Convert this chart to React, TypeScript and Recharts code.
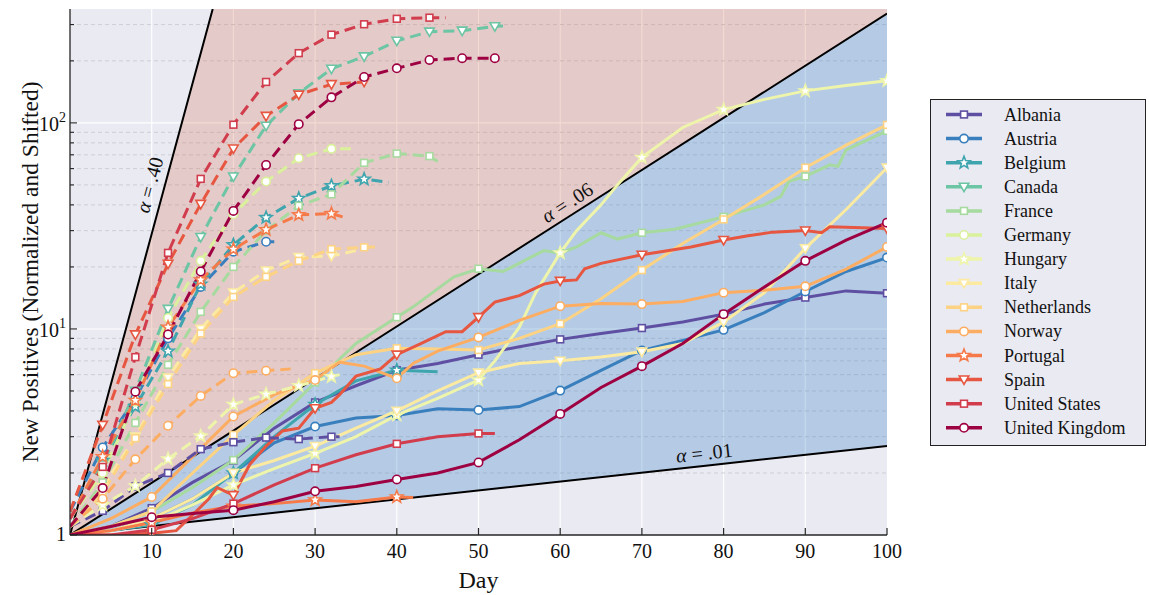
import React from 'react';
import { ComposedChart, Line, Area, XAxis, YAxis, CartesianGrid } from 'recharts';

type Pt = [number, number];

// first wave (dashed), [day, normalized positives]
const ALBANIA_EARLY: Pt[] = [[0, 1.1], [4, 1.31], [8, 1.72], [12, 2.0], [16, 2.61], [20, 2.82], [24, 2.97], [28, 2.92], [32, 3.0], [33, 3.0]];
const AUSTRIA_EARLY: Pt[] = [[0, 1.3], [4, 2.66], [8, 4.6], [12, 9.0], [16, 16.0], [20, 23.7], [24, 26.5], [25, 26.5]];
const BELGIUM_EARLY: Pt[] = [[0, 1.2], [4, 2.3], [8, 4.2], [12, 7.8], [16, 16.5], [20, 25.6], [24, 34.7], [28, 43], [32, 49.5], [36, 53.3], [39, 51.5]];
const CANADA_EARLY: Pt[] = [[0, 1.2], [4, 2.2], [8, 5.0], [12, 12.5], [16, 27.9], [20, 54.9], [24, 96.7], [28, 139], [32, 183], [36, 210], [40, 250], [44, 277], [48, 280], [52, 294], [53, 295]];
const FRANCE_EARLY: Pt[] = [[0, 1.1], [4, 1.8], [8, 3.5], [12, 6.7], [16, 12.1], [20, 20], [24, 30], [28, 39.6], [32, 45], [36, 64], [40, 71], [44, 69], [45, 65]];
const GERMANY_EARLY: Pt[] = [[0, 1.2], [4, 2.0], [8, 4.44], [12, 11.3], [16, 21.4], [20, 36], [24, 51.9], [28, 67.4], [32, 74.8], [35, 75]];
const HUNGARY_EARLY: Pt[] = [[0, 1.1], [4, 1.4], [8, 1.73], [12, 2.34], [16, 3.02], [20, 4.3], [24, 4.82], [28, 5.3], [32, 5.87], [33, 6.0]];
const ITALY_EARLY: Pt[] = [[0, 1.1], [4, 1.7], [8, 3.0], [12, 5.8], [16, 10], [20, 15], [24, 19.2], [28, 22.3], [32, 22.6], [35, 24]];
const NETHERLANDS_EARLY: Pt[] = [[0, 1.1], [4, 1.6], [8, 2.95], [12, 5.4], [16, 9.5], [20, 14.3], [24, 17.9], [28, 21.4], [32, 24.4], [36, 24.9], [38, 25]];
const NORWAY_EARLY: Pt[] = [[0, 1.1], [4, 1.5], [8, 2.33], [12, 3.39], [16, 4.73], [20, 6.1], [24, 6.27], [27, 6.4]];
const PORTUGAL_EARLY: Pt[] = [[0, 1.2], [4, 2.4], [8, 4.5], [12, 10.2], [16, 17.3], [20, 24.4], [24, 30.3], [28, 35.8], [32, 36.3], [34, 34.4]];
const SPAIN_EARLY: Pt[] = [[0, 1.3], [4, 3.42], [8, 9.4], [12, 20.7], [16, 40.4], [20, 75], [24, 108], [28, 137], [32, 154], [36, 158]];
const US_EARLY: Pt[] = [[0, 1.2], [4, 2.14], [8, 7.3], [12, 23.4], [16, 53.5], [20, 98], [24, 158], [28, 218], [32, 268], [36, 301], [40, 320], [44, 324], [46, 324]];
const UK_EARLY: Pt[] = [[0, 1.1], [4, 1.69], [8, 4.96], [12, 9.4], [16, 19], [20, 37.4], [24, 62.5], [28, 98.6], [32, 133], [36, 167], [40, 184], [44, 202], [48, 206], [52, 206]];

// second wave (solid)
const ALBANIA_LATE: Pt[] = [[0, 1], [5, 1.1], [10, 1.35], [15, 1.8], [20, 2.3], [25, 3.3], [30, 4.4], [35, 5.3], [40, 6.3], [45, 6.8], [50, 7.5], [55, 8.2], [60, 8.9], [65, 9.5], [70, 10.1], [75, 10.8], [80, 11.8], [85, 13.2], [90, 14.2], [95, 15.3], [100, 14.9]];
const AUSTRIA_LATE: Pt[] = [[0, 1], [5, 1.05], [10, 1.2], [15, 1.5], [20, 2.0], [25, 2.8], [30, 3.36], [35, 3.7], [40, 3.8], [45, 4.1], [50, 4.04], [55, 4.2], [60, 5.02], [65, 6.3], [70, 7.86], [75, 8.8], [80, 9.9], [85, 12], [90, 15.2], [95, 19], [100, 22.2]];
const BELGIUM_LATE: Pt[] = [[0, 1], [5, 1.05], [10, 1.12], [15, 1.4], [20, 2.0], [25, 3.0], [30, 4.3], [35, 5.6], [40, 6.3], [45, 6.2]];
const FRANCE_LATE: Pt[] = [[0, 1], [5, 1.1], [10, 1.3], [15, 1.7], [20, 2.31], [25, 3.5], [30, 5.5], [35, 8.5], [40, 11.4], [42, 12.8], [47, 17.9], [50, 19.6], [53, 19], [58, 24], [60, 23.3], [62, 25], [65, 29.3], [67, 27.3], [70, 29.3], [74, 30.5], [80, 35], [85, 40], [87, 44], [88, 52], [90, 55], [93, 62.6], [94, 61.5], [95, 74], [100, 91.5]];
const HUNGARY_LATE: Pt[] = [[0, 1], [5, 1.05], [10, 1.15], [15, 1.4], [20, 1.75], [25, 2.1], [30, 2.49], [35, 3.0], [40, 3.82], [45, 4.6], [50, 5.65], [52, 7], [55, 10.2], [57, 15], [60, 23.4], [62, 30], [65, 40], [67, 50], [70, 68], [75, 95], [80, 116], [85, 130], [90, 143], [95, 152], [100, 160]];
const ITALY_LATE: Pt[] = [[0, 1], [5, 1.05], [10, 1.2], [15, 1.5], [20, 2.0], [25, 2.3], [30, 2.7], [35, 3.3], [40, 4.0], [45, 5.0], [50, 6.13], [55, 6.8], [60, 7.0], [65, 7.3], [70, 7.75], [75, 8.5], [80, 10.8], [85, 15], [90, 24.6], [95, 38], [100, 60.6]];
const NETHERLANDS_LATE: Pt[] = [[0, 1], [5, 1.1], [10, 1.3], [15, 2.0], [20, 3.06], [25, 4.5], [30, 6.1], [35, 7.5], [40, 8.06], [45, 8.0], [50, 7.9], [55, 9.0], [60, 10.6], [65, 14], [70, 19.3], [75, 26], [80, 34], [85, 45], [90, 60.6], [95, 78], [100, 97.8]];
const NORWAY_LATE: Pt[] = [[0, 1], [5, 1.2], [10, 1.53], [15, 2.4], [20, 3.76], [25, 4.8], [30, 5.65], [33, 6.9], [36, 6.6], [40, 5.76], [42, 6.8], [45, 7.8], [50, 9.1], [55, 11], [60, 12.9], [65, 13.3], [70, 13.2], [75, 13.6], [80, 15.0], [85, 15.4], [90, 16.1], [95, 19.5], [100, 25]];
const PORTUGAL_LATE: Pt[] = [[0, 1], [5, 1.05], [10, 1.15], [15, 1.28], [20, 1.38], [25, 1.42], [30, 1.48], [35, 1.45], [40, 1.53], [42, 1.52]];
const SPAIN_LATE: Pt[] = [[0, 1], [5, 1.0], [10, 1.02], [13, 1.05], [15, 1.25], [17, 1.5], [18, 1.7], [20, 1.56], [22, 2.2], [24, 2.7], [26, 3.2], [28, 3.3], [30, 4.12], [32, 4.4], [33, 4.8], [35, 5.9], [38, 6.4], [40, 7.5], [43, 8.5], [46, 9.7], [48, 9.7], [50, 11.4], [52, 13.5], [55, 14.5], [58, 16.5], [60, 17.1], [62, 17.3], [63, 19.6], [65, 20.8], [70, 22.9], [76, 25], [80, 27], [83, 28.3], [86, 29.5], [90, 30], [92, 29.3], [93, 31.3], [100, 30.7]];
const US_LATE: Pt[] = [[0, 1], [5, 1.0], [10, 1.06], [15, 1.2], [20, 1.42], [25, 1.75], [30, 2.11], [35, 2.45], [40, 2.77], [45, 3.0], [50, 3.11], [52, 3.11]];
const UK_LATE: Pt[] = [[0, 1], [5, 1.1], [10, 1.22], [15, 1.27], [20, 1.32], [25, 1.45], [30, 1.63], [35, 1.72], [40, 1.86], [45, 2.0], [50, 2.25], [55, 2.9], [60, 3.87], [65, 5.2], [70, 6.6], [75, 8.5], [80, 11.8], [85, 16], [90, 21.4], [95, 27], [100, 32.8]];

const COUNTRIES = ['Albania', 'Austria', 'Belgium', 'Canada', 'France', 'Germany', 'Hungary', 'Italy', 'Netherlands', 'Norway', 'Portugal', 'Spain', 'United States', 'United Kingdom'];
const COLORS = ['#5e4fa2', '#3a7fbd', '#3ea5ae', '#6cc5a4', '#a6da9e', '#daf19b', '#eef5ab', '#fbeaa0', '#fdd383', '#fdad62', '#f67a49', '#e65640', '#d23d4e', '#9e0142'];
const EARLY = [ALBANIA_EARLY, AUSTRIA_EARLY, BELGIUM_EARLY, CANADA_EARLY, FRANCE_EARLY, GERMANY_EARLY, HUNGARY_EARLY, ITALY_EARLY, NETHERLANDS_EARLY, NORWAY_EARLY, PORTUGAL_EARLY, SPAIN_EARLY, US_EARLY, UK_EARLY];
const LATE = [ALBANIA_LATE, AUSTRIA_LATE, BELGIUM_LATE, null, FRANCE_LATE, null, HUNGARY_LATE, ITALY_LATE, NETHERLANDS_LATE, NORWAY_LATE, PORTUGAL_LATE, SPAIN_LATE, US_LATE, UK_LATE];
const SHAPES = ['square', 'circle', 'star', 'tri'];

const X_TICKS = [10, 20, 30, 40, 50, 60, 70, 80, 90, 100];
const Y_TICKS = [1, 2, 3, 4, 5, 6, 7, 8, 9, 10, 20, 30, 40, 50, 60, 70, 80, 90, 100, 200, 300];
const Y_MAJOR = [1, 10, 100];
const Y_MAX = 357;

// growth-rate guide lines y = (1 + alpha)^day
const ALPHAS = [0.4, 0.06, 0.01];
const ALPHA_TEXT = ['.40', '.06', '.01'];
const ALPHA_LABEL_DAY = [11.5, 61.7, 77.8];
const ALPHA_ANGLE = [-74.8, -32.6, -6.2];
const ALPHA_OFFSET = [15, 13, 13];

const FONT = '"Liberation Serif", "Times New Roman", serif';
const INK = '#262626';

const toRows = (pts: Pt[]) => pts.map(([day, v]) => ({ day, v }));
const grow = (a: number, d: number) => Math.pow(1 + a, d);
const topDay = (a: number) => Math.min(100, Math.log(Y_MAX) / Math.log(1 + a));

const redRegion = [
  { day: 0, range: [1, 1] },
  { day: topDay(0.4), range: [grow(0.06, topDay(0.4)), Y_MAX] },
  { day: 100, range: [grow(0.06, 100), Y_MAX] },
];
const blueRegion = [
  { day: 0, range: [1, 1] },
  { day: 100, range: [grow(0.01, 100), grow(0.06, 100)] },
];

function starPoints(cx: number, cy: number, R: number, r: number) {
  const pts: string[] = [];
  for (let i = 0; i < 10; i++) {
    const a = -Math.PI / 2 + (i * Math.PI) / 5;
    const rad = i % 2 ? r : R;
    pts.push(`${cx + rad * Math.cos(a)},${cy + rad * Math.sin(a)}`);
  }
  return pts.join(' ');
}

const Marker = ({ cx, cy, shape, color }: { cx: number; cy: number; shape: string; color: string }) => {
  const common = { fill: '#fff', stroke: color, strokeWidth: 1.6 };
  if (shape === 'square') return <rect x={cx - 3.4} y={cy - 3.4} width={6.8} height={6.8} {...common} />;
  if (shape === 'circle') return <circle cx={cx} cy={cy} r={4.2} {...common} />;
  if (shape === 'star') return <polygon points={starPoints(cx, cy, 6.4, 2.7)} {...common} />;
  return <polygon points={`${cx - 4.8},${cy - 3.6} ${cx + 4.8},${cy - 3.6} ${cx},${cy + 4.8}`} {...common} />;
};

const makeDot = (color: string, shape: string, every: number) => (p: any) => {
  const key = `dot-${p.index}`;
  const day = p.payload?.day;
  if (!day || day % every !== 0 || p.cx == null || p.cy == null) return <g key={key} />;
  return (
    <g key={key}>
      <Marker cx={p.cx} cy={p.cy} shape={shape} color={color} />
    </g>
  );
};

const BottomTick = ({ x, y, payload }: any) => {
  const edge = y - 8;
  return (
    <g>
      <line x1={x} x2={x} y1={edge} y2={edge - 7} stroke={INK} strokeWidth={1.2} />
      <text x={x} y={y} dy="0.75em" textAnchor="middle" fontFamily={FONT} fontSize={20} fill="#111">
        {payload.value}
      </text>
    </g>
  );
};

const TopTick = ({ x, y }: any) => <line x1={x} x2={x} y1={y} y2={y + 7} stroke={INK} strokeWidth={1.2} />;

const LeftTick = ({ x, y, payload }: any) => {
  const edge = x + 4;
  const v = payload.value;
  const major = Y_MAJOR.includes(v);
  const exp = Math.round(Math.log10(v));
  return (
    <g>
      <line x1={edge} x2={edge + (major ? 7 : 4)} y1={y} y2={y} stroke={INK} strokeWidth={1.1} />
      {major && (
        <text x={x} y={y} dy={exp === 0 ? 6 : 8} textAnchor="end" fontFamily={FONT} fontSize={20} fill="#111">
          {exp === 0 ? '1' : '10'}
          {exp > 0 && (
            <tspan dy={-9} fontSize={14}>
              {exp}
            </tspan>
          )}
        </text>
      )}
    </g>
  );
};

const RightTick = ({ x, y, payload }: any) => {
  const major = Y_MAJOR.includes(payload.value);
  return <line x1={x} x2={x - (major ? 7 : 4)} y1={y} y2={y} stroke={INK} strokeWidth={1.1} />;
};

const alphaLabel = (i: number) => (p: any) => {
  if (p.index !== 1) return <g key={`al-${i}-${p.index}`} />;
  return (
    <text
      key={`al-${i}`}
      transform={`translate(${p.x},${p.y}) rotate(${ALPHA_ANGLE[i]})`}
      y={-ALPHA_OFFSET[i]}
      textAnchor="middle"
      dominantBaseline="central"
      fontFamily={FONT}
      fontSize={20}
      fill="#111"
    >
      <tspan fontStyle="italic">α</tspan>
      {' = ' + ALPHA_TEXT[i]}
    </text>
  );
};

const Legend = () => (
  <div
    style={{
      position: 'absolute',
      left: 930,
      top: 99,
      width: 214,
      height: 345,
      border: '1px solid #222',
      background: '#eaeaf2',
    }}
  >
    <svg width={214} height={345}>
      {COUNTRIES.map((name, i) => {
        const cy = 14.5 + i * 24.1;
        return (
          <g key={name}>
            <line x1={15} x2={51} y1={cy} y2={cy} stroke={COLORS[i]} strokeWidth={3.5} />
            <Marker cx={33} cy={cy} shape={SHAPES[i % 4]} color={COLORS[i]} />
            <text x={73} y={cy} dy={6} fontFamily={FONT} fontSize={18} fill="#111">
              {name}
            </text>
          </g>
        );
      })}
    </svg>
  </div>
);

export default function App() {
  return (
    <div style={{ position: 'absolute', left: 0, top: 0, width: 1149, height: 595, background: '#fff' }}>
      <ComposedChart width={1149} height={595} margin={{ top: 9, right: 262, bottom: 0, left: 0 }}>
        <CartesianGrid
          fill="#eaeaf2"
          stroke="#ffffff"
          strokeWidth={1.1}
          verticalValues={[10, 20, 30, 40, 50, 60, 70, 80, 90]}
          horizontalValues={[10, 100]}
        />
        <CartesianGrid
          vertical={false}
          horizontalValues={Y_TICKS.filter((t) => !Y_MAJOR.includes(t))}
          stroke="#c6c6cf"
          strokeWidth={0.8}
          strokeDasharray="4 3"
        />
        <XAxis
          dataKey="day"
          type="number"
          domain={[0, 100]}
          ticks={X_TICKS}
          interval={0}
          allowDataOverflow
          height={60}
          tickSize={0}
          tickMargin={8}
          tickLine={false}
          tick={<BottomTick />}
          axisLine={{ stroke: INK, strokeWidth: 1.3 }}
          label={{ value: 'Day', position: 'insideBottom', offset: 7, fontFamily: FONT, fontSize: 24, fill: '#111' }}
        />
        <XAxis
          xAxisId="top"
          orientation="top"
          dataKey="day"
          type="number"
          domain={[0, 100]}
          ticks={X_TICKS}
          interval={0}
          allowDataOverflow
          height={0}
          tickSize={0}
          tickMargin={0}
          tickLine={false}
          tick={<TopTick />}
          axisLine={{ stroke: INK, strokeWidth: 1.3 }}
        />
        <YAxis
          type="number"
          scale="log"
          domain={[1, Y_MAX]}
          ticks={Y_TICKS}
          interval={0}
          allowDataOverflow
          width={70}
          tickSize={0}
          tickMargin={4}
          tickLine={false}
          tick={<LeftTick />}
          axisLine={{ stroke: INK, strokeWidth: 1.3 }}
          label={({ viewBox }: any) => (
            <text
              x={viewBox.x + 30}
              y={viewBox.y + viewBox.height / 2}
              transform={`rotate(-90, ${viewBox.x + 30}, ${viewBox.y + viewBox.height / 2})`}
              textAnchor="middle"
              dominantBaseline="central"
              fontFamily={FONT}
              fontSize={23.5}
              fill="#111"
            >
              New Positives (Normalized and Shifted)
            </text>
          )}
        />
        <YAxis
          yAxisId="right"
          orientation="right"
          type="number"
          scale="log"
          domain={[1, Y_MAX]}
          ticks={Y_TICKS}
          interval={0}
          allowDataOverflow
          width={0}
          tickSize={0}
          tickMargin={0}
          tickLine={false}
          tick={<RightTick />}
          axisLine={{ stroke: INK, strokeWidth: 1.3 }}
        />

        <Area data={redRegion} dataKey="range" type="linear" stroke="none" fill="#d46a4c" fillOpacity={0.25} isAnimationActive={false} />
        <Area data={blueRegion} dataKey="range" type="linear" stroke="none" fill="#3d85c6" fillOpacity={0.3} isAnimationActive={false} />

        {ALPHAS.map((a, i) => (
          <Line
            key={`alpha-${i}`}
            data={[
              { day: 0, v: 1 },
              { day: ALPHA_LABEL_DAY[i], v: grow(a, ALPHA_LABEL_DAY[i]) },
              { day: topDay(a), v: grow(a, topDay(a)) },
            ]}
            dataKey="v"
            type="linear"
            stroke="#000"
            strokeWidth={2}
            dot={false}
            activeDot={false}
            label={alphaLabel(i)}
            isAnimationActive={false}
          />
        ))}

        {LATE.map((pts, i) =>
          pts ? (
            <Line
              key={`late-${i}`}
              data={toRows(pts)}
              dataKey="v"
              type="linear"
              stroke={COLORS[i]}
              strokeWidth={3}
              dot={makeDot(COLORS[i], SHAPES[i % 4], 10)}
              activeDot={false}
              isAnimationActive={false}
            />
          ) : null
        )}

        {EARLY.map((pts, i) => (
          <Line
            key={`early-${i}`}
            data={toRows(pts)}
            dataKey="v"
            type="linear"
            stroke={COLORS[i]}
            strokeWidth={3}
            strokeDasharray="11 6"
            dot={makeDot(COLORS[i], SHAPES[i % 4], 4)}
            activeDot={false}
            isAnimationActive={false}
          />
        ))}
      </ComposedChart>
      <Legend />
    </div>
  );
}
